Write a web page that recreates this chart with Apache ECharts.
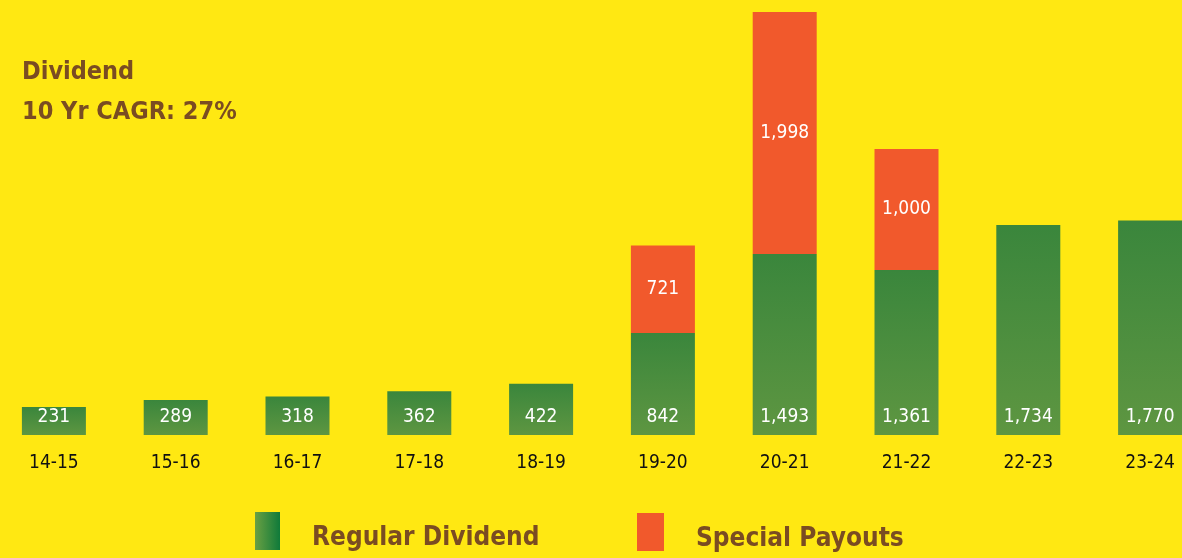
<!DOCTYPE html>
<html>
<head>
<meta charset="utf-8">
<script src="https://cdn.jsdelivr.net/npm/echarts@6/dist/echarts.min.js"></script>
<style>
  html, body { margin: 0; padding: 0; background: #ffe812; }
  #charts_main { width: 1182px; height: 558px; }
</style>
</head>
<body>
<div id="charts_main"></div>
<script>
// 年度
const years = ['14-15', '15-16', '16-17', '17-18', '18-19', '19-20', '20-21', '21-22', '22-23', '23-24'];
// 常规股息
const regular = [231, 289, 318, 362, 422, 842, 1493, 1361, 1734, 1770];
// 特别派息
const special = [null, null, null, null, null, 721, 1998, 1000, null, null];

const narrow = '"DejaVu Sans Condensed", "Liberation Sans", Arial, sans-serif';
const brown = '#7a4c22';

function init() {
  let Chart = echarts.init(document.getElementById('charts_main'));

  let greenBar = new echarts.graphic.LinearGradient(0, 0, 0, 1, [
    { offset: 0, color: '#3a863c' },
    { offset: 1, color: '#5e9641' }
  ]);
  let greenIcon = new echarts.graphic.LinearGradient(0, 0, 1, 0, [
    { offset: 0, color: '#6aa043' },
    { offset: 1, color: '#0f7a3a' }
  ]);

  // 图例文字稍微往下、往右
  let legendText = {
    fontFamily: narrow,
    fontWeight: 'bold',
    fontSize: 26,
    color: brown,
    rich: {
      t: { fontFamily: narrow, fontWeight: 'bold', fontSize: 26, color: brown, padding: [14, 0, 0, 27] }
    }
  };

  let option = {
    backgroundColor: '#ffe812',
    animation: false,
    title: {
      text: 'Dividend\n10 Yr CAGR: 27%',
      left: 17,
      top: 47,
      textStyle: {
        fontFamily: narrow,
        fontWeight: 'bold',
        fontSize: 25,
        lineHeight: 40,
        color: brown
      }
    },
    legend: [
      {
        left: 250,
        top: 507,
        itemWidth: 25,
        itemHeight: 38,
        icon: 'rect',
        formatter: '{t|{name}}',
        data: [{ name: 'Regular Dividend', itemStyle: { color: greenIcon } }],
        textStyle: legendText
      },
      {
        left: 632,
        top: 508,
        itemWidth: 27,
        itemHeight: 38,
        icon: 'rect',
        formatter: '{t|{name}}',
        data: ['Special Payouts'],
        textStyle: legendText
      }
    ],
    grid: {
      left: -7,
      width: 1218,
      top: 12,
      bottom: 123,
      outerBoundsMode: 'none'
    },
    xAxis: {
      type: 'category',
      data: years,
      axisLine: { show: false },
      axisTick: { show: false },
      axisLabel: {
        margin: 19,
        fontFamily: narrow,
        fontSize: 19,
        color: '#111'
      }
    },
    yAxis: {
      type: 'value',
      min: 0,
      max: 'dataMax',
      show: false,
      splitLine: { show: false }
    },
    series: [
      {
        name: 'Regular Dividend',
        type: 'bar',
        stack: 'div',
        barWidth: 64,
        itemStyle: { color: greenBar },
        label: {
          show: true,
          position: 'insideBottom',
          distance: 8,
          fontFamily: narrow,
          fontSize: 19,
          color: '#fff',
          formatter: p => p.value.toLocaleString('en-US')
        },
        data: regular
      },
      {
        name: 'Special Payouts',
        type: 'bar',
        stack: 'div',
        barWidth: 64,
        itemStyle: { color: '#f1592c' },
        label: {
          show: true,
          position: 'inside',
          fontFamily: narrow,
          fontSize: 19,
          color: '#fff',
          formatter: p => p.value.toLocaleString('en-US')
        },
        data: special
      }
    ]
  };
  Chart.setOption(option);
}

init();
</script>
</body>
</html>
